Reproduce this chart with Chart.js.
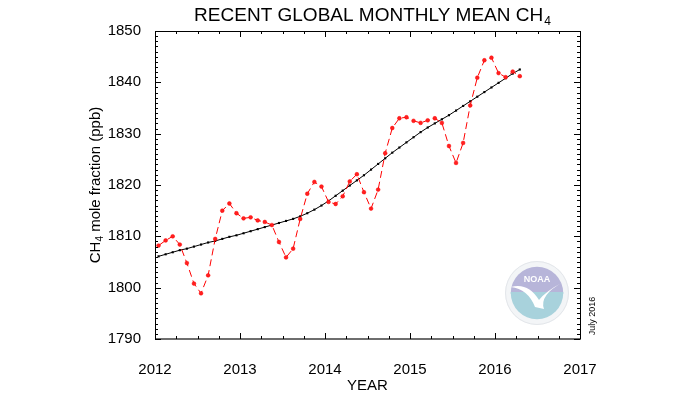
<!DOCTYPE html>
<html>
<head>
<meta charset="utf-8">
<script src="https://cdn.jsdelivr.net/npm/chart.js@4.4.1/dist/chart.umd.min.js"></script>
<style>
  html, body { margin: 0; padding: 0; background: #fff; }
  #wrap { width: 700px; height: 400px; }
</style>
</head>
<body>
<div id="wrap"><canvas id="chart" width="700" height="400"></canvas></div>
<script>
// monthly global mean CH4 (ppb), Jan 2012 .. Apr 2016
const startYear = 2012;
const monthly = [
  1808.2, 1809.2, 1810.0, 1808.4, 1804.8, 1800.8, 1798.9, 1802.4, 1809.5, 1815.0, 1816.4, 1814.5,
  1813.5, 1813.7, 1813.1, 1812.8, 1812.2, 1808.9, 1805.9, 1807.6, 1813.4, 1818.3, 1820.6, 1819.7,
  1816.7, 1816.3, 1817.8, 1820.7, 1822.1, 1818.6, 1815.4, 1819.1, 1826.2, 1831.1, 1833.0, 1833.2,
  1832.5, 1832.1, 1832.6, 1833.0, 1832.1, 1827.6, 1824.3, 1828.2, 1835.5, 1840.9, 1844.3, 1844.8,
  1841.8, 1841.0, 1842.1, 1841.2
];
// deseasonalized trend
const trend = [
  1806.1, 1806.5, 1806.9, 1807.3, 1807.6, 1808.0, 1808.4, 1808.8, 1809.1, 1809.5, 1809.9, 1810.2,
  1810.6, 1811.0, 1811.4, 1811.8, 1812.2, 1812.6, 1813.0, 1813.4, 1813.9, 1814.5, 1815.2, 1816.0,
  1816.9, 1817.9, 1818.9, 1819.9, 1820.9, 1821.9, 1823.0, 1824.1, 1825.2, 1826.3, 1827.3, 1828.3,
  1829.3, 1830.3, 1831.2, 1832.0, 1832.8, 1833.6, 1834.5, 1835.4, 1836.3, 1837.2, 1838.1, 1839.0,
  1839.9, 1840.8, 1841.7, 1842.5
];
const yearTicks = [2012, 2013, 2014, 2015, 2016, 2017];
const ppbTicks = [1790, 1800, 1810, 1820, 1830, 1840, 1850];

const toPoints = arr => arr.map((v, i) => ({ x: startYear + (i + 0.5) / 12, y: v }));

const FONT = '"Liberation Sans", Arial, Helvetica, sans-serif';

// frame, inward ticks, titles, logo
const decor = {
  id: 'decor',
  beforeDatasetsDraw(chart) {
    const ctx = chart.ctx;
    ctx.save();
    // NOAA logo (faded)
    const cx = 537, cy = 293, r = 32, ri = r * 0.82;
    ctx.beginPath(); ctx.arc(cx, cy, r, 0, Math.PI * 2); ctx.fillStyle = '#f3f5f7'; ctx.fill();
    ctx.beginPath(); ctx.arc(cx, cy, ri, Math.PI, 0); ctx.fillStyle = '#b7b5d9'; ctx.fill();
    ctx.beginPath(); ctx.arc(cx, cy, ri, 0, Math.PI); ctx.fillStyle = '#a8d2dc'; ctx.fill();
    ctx.fillRect(cx - ri, cy - 1, ri * 2, 2);
    // white bird
    ctx.beginPath();
    ctx.moveTo(cx - ri, cy - 6);
    ctx.quadraticCurveTo(cx - 9, cy - 4, cx - 2, cy + 14);
    ctx.lineTo(cx + 7, cy + 16);
    ctx.quadraticCurveTo(cx + 2, cy + 2, cx + ri, cy - 11);
    ctx.quadraticCurveTo(cx + 9, cy - 2, cx + 2, cy + 7);
    ctx.quadraticCurveTo(cx - 9, cy - 11, cx - ri, cy - 6);
    ctx.fillStyle = '#ffffff'; ctx.fill();
    ctx.font = 'bold 9px ' + FONT;
    ctx.textAlign = 'center'; ctx.textBaseline = 'middle';
    ctx.fillText('NOAA', cx, cy - 13);
    ctx.beginPath(); ctx.arc(cx, cy, r - 0.5, 0, Math.PI * 2);
    ctx.strokeStyle = '#e3e6ea'; ctx.lineWidth = 1; ctx.stroke();
    ctx.restore();
  },
  afterDraw(chart) {
    const ctx = chart.ctx;
    const xs = chart.scales.x, ys = chart.scales.y;
    const a = chart.chartArea;
    ctx.save();
    // frame
    ctx.strokeStyle = '#000'; ctx.lineWidth = 1;
    ctx.beginPath();
    ctx.moveTo(a.left + 0.5, a.bottom); ctx.lineTo(a.left + 0.5, a.top + 0.5);
    ctx.lineTo(a.right + 0.5, a.top + 0.5); ctx.lineTo(a.right + 0.5, a.bottom);
    ctx.stroke();
    ctx.strokeStyle = '#6e6e6e'; ctx.lineWidth = 2;
    ctx.beginPath(); ctx.moveTo(a.left, a.bottom); ctx.lineTo(a.right + 1, a.bottom); ctx.stroke();
    // inward ticks
    ctx.strokeStyle = '#000'; ctx.lineWidth = 1;
    ctx.beginPath();
    for (let v = ys.min; v <= ys.max + 0.001; v += 1) {
      const y = Math.round(ys.getPixelForValue(v)) + 0.5;
      const len = (Math.round(v) % 10 === 0) ? 6 : 3;
      ctx.moveTo(a.left, y); ctx.lineTo(a.left + len, y);
      ctx.moveTo(a.right, y); ctx.lineTo(a.right - len, y);
    }
    for (let v = xs.min; v <= xs.max + 0.001; v += 0.25) {
      const x = Math.round(xs.getPixelForValue(v)) + 0.5;
      const len = (Math.abs(v - Math.round(v)) < 0.01) ? 6 : 3;
      ctx.moveTo(x, a.bottom); ctx.lineTo(x, a.bottom - len);
      ctx.moveTo(x, a.top); ctx.lineTo(x, a.top + len);
    }
    ctx.stroke();

    ctx.fillStyle = '#000';
    ctx.textBaseline = 'alphabetic';
    // title with subscript
    const t1 = 'RECENT GLOBAL MONTHLY MEAN CH';
    ctx.font = '19px ' + FONT;
    const w1 = ctx.measureText(t1).width;
    ctx.font = '12px ' + FONT;
    const w2 = ctx.measureText('4').width;
    let tx = 372 - (w1 + w2) / 2;
    ctx.textAlign = 'left';
    ctx.font = '19px ' + FONT;
    ctx.fillText(t1, tx, 21);
    ctx.font = '12px ' + FONT;
    ctx.fillText('4', tx + w1 + 1, 25);

    // y axis title
    ctx.save();
    ctx.translate(100, (a.top + a.bottom) / 2);
    ctx.rotate(-Math.PI / 2);
    ctx.font = '15px ' + FONT;
    const s1 = 'CH', s3 = ' mole fraction (ppb)';
    const ws1 = ctx.measureText(s1).width, ws3 = ctx.measureText(s3).width;
    ctx.font = '10px ' + FONT;
    const ws2 = ctx.measureText('4').width;
    let sx = -(ws1 + ws2 + ws3) / 2;
    ctx.font = '15px ' + FONT;
    ctx.fillText(s1, sx, 0);
    ctx.font = '10px ' + FONT;
    ctx.fillText('4', sx + ws1, 3);
    ctx.font = '15px ' + FONT;
    ctx.fillText(s3, sx + ws1 + ws2, 0);
    ctx.restore();

    // x axis title
    ctx.font = '15px ' + FONT;
    ctx.textAlign = 'center';
    ctx.fillText('YEAR', (a.left + a.right) / 2, 390);

    // date stamp
    ctx.save();
    ctx.translate(595, 316);
    ctx.rotate(-Math.PI / 2);
    ctx.font = '9px ' + FONT;
    ctx.textAlign = 'center';
    ctx.fillText('July 2016', 0, 0);
    ctx.restore();
    ctx.restore();
  }
};

const ctx = document.getElementById('chart').getContext('2d');
const chart = new Chart(ctx, {
  type: 'scatter',
  data: {
    datasets: [
      {
        label: 'Monthly mean',
        data: toPoints(monthly),
        showLine: true,
        borderColor: '#ff0000',
        borderWidth: 1,
        borderDash: [7, 4],
        pointRadius: 1.9,
        pointBackgroundColor: '#ff2020',
        pointBorderColor: '#ff0000',
        pointBorderWidth: 0.5
      },
      {
        label: 'Trend',
        data: toPoints(trend),
        showLine: true,
        borderColor: '#000000',
        borderWidth: 1,
        pointStyle: 'rect',
        pointRadius: 1.5,
        pointBackgroundColor: '#000000',
        pointBorderColor: '#000000',
        pointBorderWidth: 0
      }
    ]
  },
  options: {
    responsive: false,
    animation: false,
    layout: { padding: { left: 0, top: 31, right: 120, bottom: 0 } },
    plugins: {
      legend: { display: false },
      tooltip: { enabled: false }
    },
    scales: {
      x: {
        type: 'linear',
        min: yearTicks[0],
        max: yearTicks[yearTicks.length - 1],
        grid: { display: false },
        border: { display: false },
        afterBuildTicks: s => { s.ticks = yearTicks.map(v => ({ value: v })); },
        afterFit: s => { s.height = 61; },
        ticks: {
          padding: 14,
          maxRotation: 0,
          color: '#000',
          font: { family: FONT, size: 15 },
          callback: v => String(v)
        }
      },
      y: {
        type: 'linear',
        min: ppbTicks[0],
        max: ppbTicks[ppbTicks.length - 1],
        grid: { display: false },
        border: { display: false },
        afterBuildTicks: s => { s.ticks = ppbTicks.map(v => ({ value: v })); },
        afterFit: s => { s.width = 155; },
        ticks: {
          padding: 6,
          color: '#000',
          font: { family: FONT, size: 15 },
          callback: v => String(v)
        }
      }
    }
  },
  plugins: [decor]
});
</script>
</body>
</html>
